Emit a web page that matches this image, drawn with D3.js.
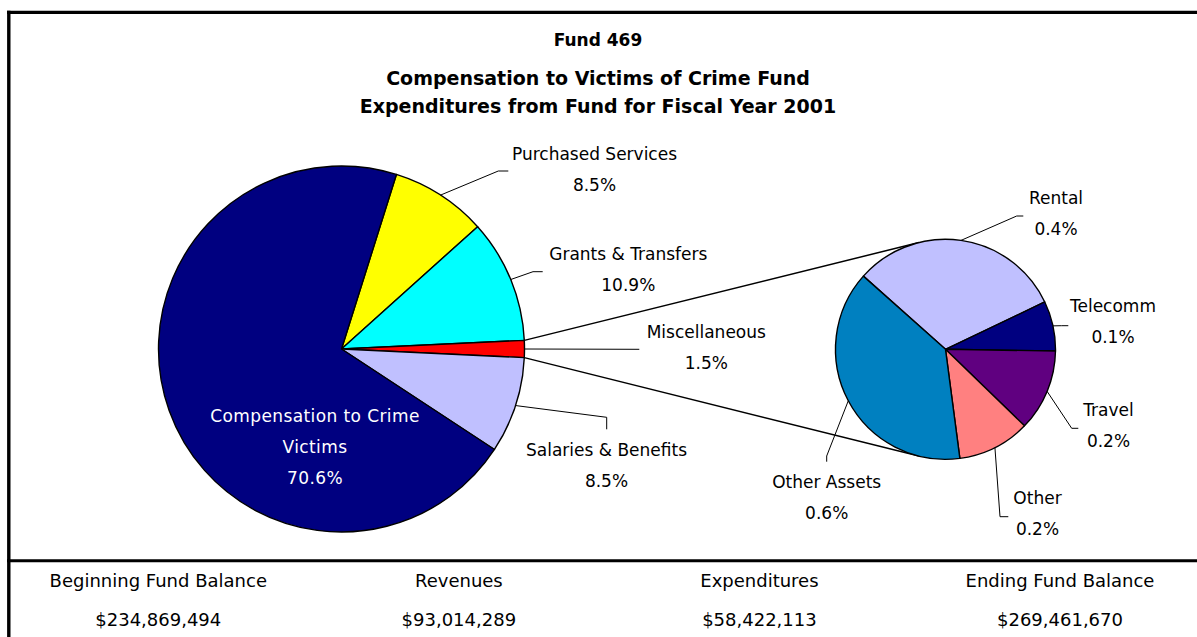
<!DOCTYPE html>
<html>
<head>
<meta charset="utf-8">
<script src="https://cdn.jsdelivr.net/npm/d3@7"></script>
<style>
  html, body { margin: 0; padding: 0; background: #ffffff; }
  svg { display: block; }
</style>
</head>
<body>
<svg id="chart" width="1197" height="637"></svg>
<script>
// ---------- DATA ----------
const titleLines = ["Fund 469", "Compensation to Victims of Crime Fund", "Expenditures from Fund for Fiscal Year 2001"];

const mainCategories = ["Purchased Services", "Grants & Transfers", "Miscellaneous", "Salaries & Benefits", "Compensation to Crime Victims"];
const mainValues = [8.5, 10.9, 1.5, 8.5, 70.6];
const mainColors = ["#FFFF00", "#00FFFF", "#FF0000", "#C0C0FF", "#000080"];
const aggregateIndex = 2; // Miscellaneous is broken out into the secondary pie

const subCategories = ["Rental", "Telecomm", "Travel", "Other", "Other Assets"];
const subValues = [0.47, 0.11, 0.18, 0.16, 0.58];
const subPctLabels = ["0.4%", "0.1%", "0.2%", "0.2%", "0.6%"];
const subColors = ["#C0C0FF", "#000080", "#600080", "#FF8080", "#0080C0"];

const summaryLabels = ["Beginning Fund Balance", "Revenues", "Expenditures", "Ending Fund Balance"];
const summaryValues = [234869494, 93014289, 58422113, 269461670];

// ---------- LAYOUT ----------
const W = 1197, H = 637;
const svg = d3.select("#chart");
const FONT = "'DejaVu Sans', Verdana, sans-serif";
const deg = Math.PI / 180;

const mainC = {x: 341.5, y: 349, r: 183};
const subC = {x: 945.5, y: 349.3, r: 110};
const subStart = -48.3 * deg;

// main pie: aggregate slice centred on 3 o'clock
const total = d3.sum(mainValues);
const before = d3.sum(mainValues.slice(0, aggregateIndex)) + mainValues[aggregateIndex] / 2;
const mainStart = Math.PI / 2 - before / total * 2 * Math.PI;

const mainPie = d3.pie().sort(null).value(d => d.v)
  .startAngle(mainStart).endAngle(mainStart + 2 * Math.PI);
const mainArcs = mainPie(mainCategories.map((c, i) => ({c, v: mainValues[i], col: mainColors[i], i})));

const subPie = d3.pie().sort(null).value(d => d.v)
  .startAngle(subStart).endAngle(subStart + 2 * Math.PI);
const subArcs = subPie(subCategories.map((c, i) => ({c, v: subValues[i], col: subColors[i], i})));

const pt = (c, r, a) => [c.x + r * Math.sin(a), c.y - r * Math.cos(a)];

// ---------- BORDER ----------
svg.append("line").attr("x1", 8.8).attr("x2", 8.8).attr("y1", 10.7).attr("y2", H)
  .attr("stroke", "#000").attr("stroke-width", 3.4);
svg.append("line").attr("x1", 7).attr("x2", W).attr("y1", 12.3).attr("y2", 12.3)
  .attr("stroke", "#000").attr("stroke-width", 3.3);
svg.append("line").attr("x1", 7).attr("x2", W).attr("y1", 560.8).attr("y2", 560.8)
  .attr("stroke", "#000").attr("stroke-width", 3);

// ---------- TITLES ----------
const titleY = [40, 78, 106];
const titleSize = [17, 19, 19];
svg.append("g").selectAll("text").data(titleLines).join("text")
  .attr("x", 598).attr("y", (d, i) => titleY[i]).attr("dy", "0.36em")
  .attr("text-anchor", "middle").attr("font-family", FONT).attr("font-weight", "bold")
  .attr("font-size", (d, i) => titleSize[i]).attr("fill", "#000").text(d => d);

// ---------- CONNECTOR LINES (tangent to secondary pie) ----------
const agg = mainArcs[aggregateIndex];
function tangent(P, upper) {
  const dx = P[0] - subC.x, dy = P[1] - subC.y;
  const d = Math.hypot(dx, dy);
  const base = Math.atan2(dx, -dy); // angle clockwise from 12 o'clock
  const off = Math.acos(subC.r / d);
  return pt(subC, subC.r, upper ? base + off : base - off);
}
const pUp = pt(mainC, mainC.r, agg.startAngle);
const pDn = pt(mainC, mainC.r, agg.endAngle);
const tUp = tangent(pUp, true), tDn = tangent(pDn, false);
svg.append("g").selectAll("line").data([[pUp, tUp], [pDn, tDn]]).join("line")
  .attr("x1", d => d[0][0]).attr("y1", d => d[0][1])
  .attr("x2", d => d[1][0]).attr("y2", d => d[1][1])
  .attr("stroke", "#000").attr("stroke-width", 1.5);

// ---------- PIES ----------
const mainArcGen = d3.arc().innerRadius(0).outerRadius(mainC.r);
svg.append("g").attr("transform", `translate(${mainC.x},${mainC.y})`)
  .selectAll("path").data(mainArcs).join("path")
  .attr("d", mainArcGen).attr("fill", d => d.data.col)
  .attr("stroke", "#000").attr("stroke-width", 1.4).attr("stroke-linejoin", "round");

const subArcGen = d3.arc().innerRadius(0).outerRadius(subC.r);
svg.append("g").attr("transform", `translate(${subC.x},${subC.y})`)
  .selectAll("path").data(subArcs).join("path")
  .attr("d", subArcGen).attr("fill", d => d.data.col)
  .attr("stroke", "#000").attr("stroke-width", 1.4).attr("stroke-linejoin", "round");

// ---------- LABELS ----------
// label layout: elbow point, leader end point, label centre (x, first line y)
const mainLabelLayout = [
  {elbow: [498.3, 171], end: [508.3, 171], tx: 594.5, ty: 154},
  {elbow: [533, 271.7], end: [542.7, 271.7], tx: 628.3, ty: 253.7},
  {elbow: null, end: [639.3, 349.3], tx: 706.3, ty: 331.7},
  {elbow: [606.7, 417.3], end: [606.7, 429.3], tx: 606.5, ty: 450.3},
  null
];
const subLabelLayout = [
  {elbow: [1016.7, 216], end: [1023.3, 216], tx: 1056, ty: 198.3},
  {elbow: [1061.7, 325.7], end: [1068.3, 325.7], tx: 1113, ty: 306.3},
  {elbow: [1071.7, 428.3], end: [1078.3, 428.3], tx: 1108.5, ty: 410},
  {elbow: [1000, 516.7], end: [1008.3, 516.7], tx: 1037.5, ty: 498.3},
  {elbow: [826.7, 456], end: [826.7, 461.7], tx: 826.7, ty: 482.2}
];
const LINE_GAP = 31;
const fmtPct = v => d3.format(".1f")(v) + "%";

function drawLabel(g, c, arc, lay, name, pct) {
  const mid = (arc.startAngle + arc.endAngle) / 2;
  const s = pt(c, c.r, mid);
  const pts = [s];
  if (lay.elbow) pts.push(lay.elbow);
  pts.push(lay.end);
  g.append("path").attr("d", d3.line()(pts)).attr("fill", "none")
    .attr("stroke", "#000").attr("stroke-width", 1);
  g.append("text").attr("x", lay.tx).attr("y", lay.ty).attr("dy", "0.36em")
    .attr("text-anchor", "middle").attr("font-family", FONT).attr("font-size", 17)
    .attr("fill", "#000").text(name);
  g.append("text").attr("x", lay.tx).attr("y", lay.ty + LINE_GAP).attr("dy", "0.36em")
    .attr("text-anchor", "middle").attr("font-family", FONT).attr("font-size", 17)
    .attr("fill", "#000").text(pct);
}

const lg = svg.append("g");
mainArcs.forEach((a, i) => {
  if (mainLabelLayout[i]) drawLabel(lg, mainC, a, mainLabelLayout[i], mainCategories[i], fmtPct(mainValues[i]));
});
subArcs.forEach((a, i) => {
  drawLabel(lg, subC, a, subLabelLayout[i], subCategories[i], subPctLabels[i]);
});

// inside label for the largest slice
const bigIdx = 4;
const bigLines = ["Compensation to Crime", "Victims", fmtPct(mainValues[bigIdx])];
lg.append("g").selectAll("text").data(bigLines).join("text")
  .attr("x", 315).attr("y", (d, i) => 415.5 + i * 31).attr("dy", "0.36em")
  .attr("text-anchor", "middle").attr("font-family", FONT).attr("font-size", 17)
  .attr("letter-spacing", 0.4).attr("fill", "#fff").text(d => d);

// ---------- SUMMARY ROW ----------
const colX = d3.scalePoint().domain(summaryLabels).range([158.3, 1060]);
const fmtMoney = v => "$" + d3.format(",")(v);
const sg = svg.append("g");
sg.selectAll("text.h").data(summaryLabels).join("text").attr("class", "h")
  .attr("x", d => colX(d)).attr("y", 581).attr("dy", "0.36em")
  .attr("text-anchor", "middle").attr("font-family", FONT).attr("font-size", 18)
  .attr("fill", "#000").text(d => d);
sg.selectAll("text.v").data(summaryValues).join("text").attr("class", "v")
  .attr("x", (d, i) => colX(summaryLabels[i])).attr("y", 620).attr("dy", "0.36em")
  .attr("text-anchor", "middle").attr("font-family", FONT).attr("font-size", 18)
  .attr("fill", "#000").text(d => fmtMoney(d));
</script>
</body>
</html>
